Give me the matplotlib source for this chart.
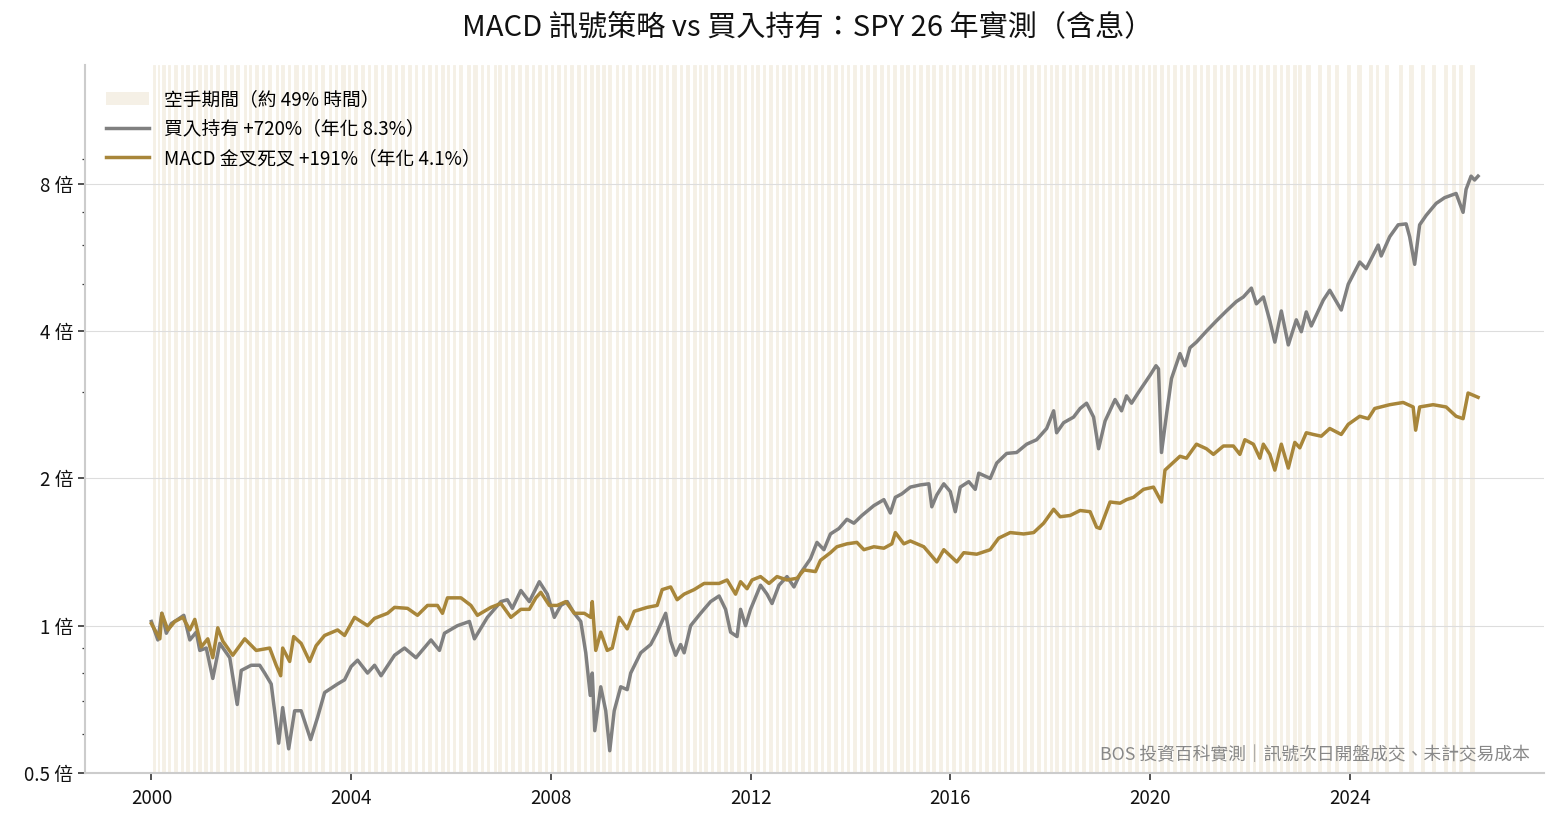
import numpy as np
import matplotlib
matplotlib.use("Agg")
import matplotlib.pyplot as plt
from matplotlib.patches import Patch
from matplotlib.lines import Line2D
from matplotlib.ticker import FixedLocator, LogLocator, NullFormatter

plt.rcParams['font.family'] = ['Noto Sans CJK TC', 'DejaVu Sans']

# ---------------- data ----------------
BH_YEARS = [2000.0, 2000.13, 2000.21, 2000.30, 2000.40, 2000.53, 2000.65, 2000.77, 2000.90, 2000.97,
            2001.10, 2001.23, 2001.37, 2001.57, 2001.72, 2001.80, 2002.0, 2002.17, 2002.27, 2002.40,
            2002.55, 2002.63, 2002.75, 2002.87, 2003.0, 2003.19, 2003.33, 2003.47, 2003.73, 2003.87,
            2004.0, 2004.13, 2004.33, 2004.47, 2004.60, 2004.87, 2005.07, 2005.30, 2005.60, 2005.77,
            2005.87, 2006.13, 2006.37, 2006.47, 2006.73, 2007.0, 2007.13, 2007.23, 2007.40, 2007.57,
            2007.77, 2007.93, 2008.07, 2008.2, 2008.33, 2008.47, 2008.6, 2008.7, 2008.79, 2008.83,
            2008.88, 2009.0, 2009.1, 2009.18, 2009.27, 2009.4, 2009.53, 2009.6, 2009.8, 2010.0,
            2010.13, 2010.3, 2010.4, 2010.5, 2010.6, 2010.67, 2010.8, 2011.0, 2011.2, 2011.37,
            2011.5, 2011.6, 2011.73, 2011.8, 2011.9, 2012.0, 2012.2, 2012.33, 2012.43, 2012.57,
            2012.73, 2012.87, 2013.0, 2013.2, 2013.33, 2013.47, 2013.6, 2013.77, 2013.93, 2014.07,
            2014.23, 2014.47, 2014.67, 2014.8, 2014.9, 2015.03, 2015.2, 2015.4, 2015.57, 2015.63,
            2015.73, 2015.87, 2016.0, 2016.1, 2016.2, 2016.37, 2016.5, 2016.57, 2016.8, 2016.93,
            2017.13, 2017.33, 2017.53, 2017.73, 2017.93, 2018.07, 2018.13, 2018.27, 2018.47, 2018.6,
            2018.73, 2018.87, 2018.97, 2019.1, 2019.3, 2019.43, 2019.53, 2019.63, 2019.77, 2020.0,
            2020.12, 2020.17, 2020.23, 2020.33, 2020.43, 2020.6, 2020.7, 2020.8, 2020.93, 2021.13,
            2021.33, 2021.53, 2021.73, 2021.87, 2022.03, 2022.13, 2022.27, 2022.4, 2022.5, 2022.63,
            2022.77, 2022.93, 2023.03, 2023.13, 2023.23, 2023.47, 2023.6, 2023.83, 2023.97, 2024.2,
            2024.33, 2024.57, 2024.63, 2024.8, 2024.97, 2025.13, 2025.2, 2025.3, 2025.4, 2025.53,
            2025.73, 2025.9, 2026.13, 2026.27, 2026.33, 2026.43, 2026.5, 2026.57]
BH_VALUES = [1.02, 0.935, 1.06, 0.965, 1.01, 1.03, 1.05, 0.935, 0.97, 0.89,
             0.90, 0.78, 0.92, 0.86, 0.69, 0.81, 0.83, 0.83, 0.80, 0.76,
             0.575, 0.68, 0.56, 0.67, 0.67, 0.585, 0.65, 0.73, 0.76, 0.775,
             0.825, 0.85, 0.80, 0.83, 0.79, 0.87, 0.90, 0.86, 0.935, 0.89,
             0.965, 1.0, 1.02, 0.94, 1.04, 1.12, 1.13, 1.085, 1.18, 1.12,
             1.23, 1.16, 1.04, 1.10, 1.12, 1.06, 1.02, 0.88, 0.72, 0.80,
             0.61, 0.75, 0.67, 0.555, 0.67, 0.75, 0.74, 0.80, 0.88, 0.915,
             0.97, 1.06, 0.93, 0.87, 0.915, 0.88, 1.0, 1.06, 1.12, 1.15,
             1.08, 0.97, 0.95, 1.08, 1.0, 1.08, 1.21, 1.16, 1.11, 1.21,
             1.26, 1.2, 1.28, 1.37, 1.48, 1.43, 1.54, 1.58, 1.65, 1.62,
             1.68, 1.76, 1.81, 1.70, 1.83, 1.86, 1.92, 1.94, 1.95, 1.75,
             1.85, 1.95, 1.88, 1.71, 1.92, 1.97, 1.90, 2.05, 2.0, 2.15,
             2.25, 2.26, 2.35, 2.4, 2.53, 2.75, 2.48, 2.6, 2.67, 2.78,
             2.85, 2.67, 2.3, 2.62, 2.9, 2.75, 2.95, 2.85, 3.0, 3.25,
             3.4, 3.35, 2.26, 2.7, 3.2, 3.6, 3.4, 3.7, 3.8, 4.0,
             4.2, 4.4, 4.6, 4.7, 4.9, 4.55, 4.7, 4.2, 3.8, 4.4,
             3.75, 4.22, 3.99, 4.38, 4.1, 4.63, 4.85, 4.42, 4.99, 5.54,
             5.37, 6.0, 5.7, 6.24, 6.6, 6.63, 6.24, 5.48, 6.6, 6.9,
             7.3, 7.5, 7.65, 7.0, 7.8, 8.3, 8.15, 8.3]

MACD_YEARS = [2000.0, 2000.17, 2000.21, 2000.33, 2000.47, 2000.63, 2000.77, 2000.87, 2001.0, 2001.13,
              2001.23, 2001.33, 2001.43, 2001.63, 2001.87, 2002.1, 2002.37, 2002.5, 2002.59, 2002.63,
              2002.77, 2002.85, 2003.0, 2003.17, 2003.3, 2003.47, 2003.73, 2003.87, 2004.07, 2004.33,
              2004.47, 2004.73, 2004.87, 2005.13, 2005.33, 2005.53, 2005.73, 2005.83, 2005.93, 2006.2,
              2006.4, 2006.53, 2006.8, 2007.0, 2007.2, 2007.4, 2007.57, 2007.7, 2007.8, 2007.97,
              2008.13, 2008.3, 2008.47, 2008.67, 2008.8, 2008.83, 2008.9, 2009.0, 2009.13, 2009.23,
              2009.37, 2009.53, 2009.67, 2009.93, 2010.13, 2010.23, 2010.4, 2010.53, 2010.67, 2010.87,
              2011.07, 2011.37, 2011.53, 2011.7, 2011.8, 2011.93, 2012.03, 2012.2, 2012.37, 2012.53,
              2012.73, 2012.93, 2013.07, 2013.3, 2013.4, 2013.6, 2013.73, 2013.93, 2014.13, 2014.27,
              2014.47, 2014.67, 2014.83, 2014.9, 2015.07, 2015.2, 2015.47, 2015.73, 2015.87, 2016.13,
              2016.27, 2016.53, 2016.8, 2016.97, 2017.2, 2017.47, 2017.67, 2017.87, 2018.07, 2018.2,
              2018.4, 2018.6, 2018.8, 2018.93, 2019.0, 2019.2, 2019.4, 2019.53, 2019.67, 2019.87,
              2020.07, 2020.23, 2020.3, 2020.43, 2020.6, 2020.73, 2020.93, 2021.13, 2021.27, 2021.47,
              2021.67, 2021.8, 2021.9, 2022.07, 2022.2, 2022.27, 2022.4, 2022.5, 2022.63, 2022.77,
              2022.9, 2023.0, 2023.13, 2023.27, 2023.43, 2023.6, 2023.83, 2023.97, 2024.2, 2024.37,
              2024.5, 2024.8, 2025.07, 2025.27, 2025.32, 2025.4, 2025.67, 2025.93, 2026.13, 2026.27,
              2026.37, 2026.57]
MACD_VALUES = [1.01, 0.94, 1.06, 0.98, 1.02, 1.04, 0.98, 1.03, 0.905, 0.94,
               0.86, 0.99, 0.93, 0.87, 0.94, 0.89, 0.90, 0.83, 0.79, 0.90,
               0.845, 0.95, 0.92, 0.845, 0.91, 0.955, 0.98, 0.955, 1.04, 1.0,
               1.035, 1.06, 1.09, 1.085, 1.05, 1.10, 1.10, 1.06, 1.14, 1.14,
               1.10, 1.05, 1.09, 1.11, 1.04, 1.08, 1.08, 1.14, 1.17, 1.10,
               1.10, 1.12, 1.06, 1.06, 1.04, 1.12, 0.89, 0.97, 0.89, 0.90,
               1.04, 0.985, 1.07, 1.09, 1.10, 1.185, 1.2, 1.13, 1.16, 1.185,
               1.22, 1.22, 1.24, 1.16, 1.23, 1.19, 1.24, 1.26, 1.22, 1.26,
               1.24, 1.25, 1.30, 1.29, 1.36, 1.41, 1.45, 1.47, 1.48, 1.43,
               1.45, 1.44, 1.47, 1.55, 1.47, 1.49, 1.45, 1.35, 1.43, 1.35,
               1.41, 1.40, 1.43, 1.51, 1.55, 1.54, 1.55, 1.62, 1.73, 1.67,
               1.68, 1.72, 1.71, 1.59, 1.58, 1.79, 1.78, 1.81, 1.83, 1.90,
               1.92, 1.79, 2.08, 2.14, 2.22, 2.2, 2.35, 2.3, 2.24, 2.33,
               2.33, 2.24, 2.4, 2.35, 2.2, 2.35, 2.24, 2.08, 2.35, 2.1,
               2.37, 2.31, 2.48, 2.46, 2.44, 2.53, 2.46, 2.58, 2.68, 2.65,
               2.78, 2.83, 2.86, 2.8, 2.51, 2.8, 2.83, 2.8, 2.68, 2.65,
               2.99, 2.93]

# out-of-market (空手) periods, in fractional years
OUT_PERIODS = [
    (2000.04, 2000.08), (2000.13, 2000.16), (2000.22, 2000.27), (2000.33, 2000.38), (2000.46, 2000.52),
    (2000.60, 2000.64), (2000.70, 2000.76), (2000.83, 2000.88), (2000.93, 2000.99),
    (2001.06, 2001.12), (2001.18, 2001.22), (2001.30, 2001.36), (2001.45, 2001.50), (2001.57, 2001.63),
    (2001.70, 2001.76), (2001.86, 2001.90), (2001.95, 2002.00),
    (2002.08, 2002.14), (2002.22, 2002.26), (2002.33, 2002.40), (2002.49, 2002.53), (2002.60, 2002.66),
    (2002.74, 2002.78), (2002.86, 2002.93),
    (2003.02, 2003.06), (2003.13, 2003.19), (2003.27, 2003.31), (2003.40, 2003.45), (2003.55, 2003.60),
    (2003.68, 2003.72), (2003.80, 2003.87), (2003.94, 2003.98),
    (2004.05, 2004.11), (2004.20, 2004.26), (2004.34, 2004.38), (2004.45, 2004.52), (2004.60, 2004.64),
    (2004.72, 2004.79), (2004.88, 2004.92),
    (2005.00, 2005.06), (2005.14, 2005.19), (2005.27, 2005.33), (2005.42, 2005.46), (2005.54, 2005.60),
    (2005.68, 2005.73), (2005.80, 2005.86), (2005.93, 2005.97),
    (2006.05, 2006.09), (2006.17, 2006.23), (2006.32, 2006.38), (2006.45, 2006.52), (2006.60, 2006.64),
    (2006.72, 2006.77), (2006.86, 2006.90), (2006.95, 2007.00),
    (2007.08, 2007.13), (2007.20, 2007.26), (2007.35, 2007.40), (2007.48, 2007.54), (2007.62, 2007.66),
    (2007.74, 2007.80), (2007.88, 2007.93),
    (2008.00, 2008.05), (2008.12, 2008.18), (2008.26, 2008.30), (2008.38, 2008.44), (2008.52, 2008.58),
    (2008.66, 2008.70), (2008.78, 2008.84), (2008.91, 2008.96),
    (2009.03, 2009.08), (2009.15, 2009.21), (2009.30, 2009.34), (2009.42, 2009.47), (2009.55, 2009.61),
    (2009.70, 2009.74), (2009.82, 2009.88), (2009.94, 2009.98),
    (2010.04, 2010.09), (2010.17, 2010.23), (2010.31, 2010.35), (2010.43, 2010.50), (2010.58, 2010.63),
    (2010.71, 2010.76), (2010.85, 2010.90), (2010.96, 2011.00),
    (2011.07, 2011.12), (2011.20, 2011.25), (2011.33, 2011.39), (2011.47, 2011.52), (2011.59, 2011.64),
    (2011.72, 2011.78), (2011.86, 2011.91),
    (2012.00, 2012.04), (2012.10, 2012.16), (2012.24, 2012.28), (2012.36, 2012.42), (2012.50, 2012.55),
    (2012.63, 2012.68), (2012.76, 2012.82), (2012.90, 2012.94),
    (2013.02, 2013.07), (2013.15, 2013.20), (2013.28, 2013.34), (2013.42, 2013.46), (2013.54, 2013.60),
    (2013.68, 2013.73), (2013.81, 2013.86), (2013.93, 2013.97),
    (2014.05, 2014.11), (2014.19, 2014.24), (2014.32, 2014.37), (2014.45, 2014.51), (2014.60, 2014.65),
    (2014.73, 2014.78), (2014.86, 2014.92),
    (2015.00, 2015.05), (2015.12, 2015.18), (2015.26, 2015.30), (2015.38, 2015.44), (2015.52, 2015.57),
    (2015.64, 2015.70), (2015.78, 2015.83), (2015.91, 2015.96),
    (2016.03, 2016.09), (2016.17, 2016.22), (2016.30, 2016.35), (2016.43, 2016.49), (2016.57, 2016.62),
    (2016.70, 2016.75), (2016.83, 2016.89), (2016.96, 2017.00),
    (2017.07, 2017.12), (2017.20, 2017.26), (2017.34, 2017.38), (2017.46, 2017.52), (2017.60, 2017.65),
    (2017.73, 2017.79), (2017.87, 2017.92),
    (2018.00, 2018.04), (2018.10, 2018.16), (2018.24, 2018.29), (2018.37, 2018.42), (2018.50, 2018.56),
    (2018.64, 2018.69), (2018.77, 2018.83), (2018.90, 2018.96),
    (2019.04, 2019.08), (2019.16, 2019.22), (2019.30, 2019.35), (2019.43, 2019.48), (2019.56, 2019.62),
    (2019.70, 2019.75), (2019.83, 2019.88), (2019.95, 2019.99),
    (2020.06, 2020.12), (2020.20, 2020.26), (2020.34, 2020.38), (2020.46, 2020.52), (2020.60, 2020.65),
    (2020.73, 2020.79), (2020.87, 2020.92),
    (2021.00, 2021.05), (2021.13, 2021.18), (2021.26, 2021.32), (2021.40, 2021.45), (2021.53, 2021.58),
    (2021.66, 2021.72), (2021.80, 2021.85), (2021.93, 2021.98),
    (2022.06, 2022.11), (2022.19, 2022.25), (2022.33, 2022.38), (2022.46, 2022.52), (2022.60, 2022.65),
    (2022.73, 2022.79), (2022.87, 2022.92),
    (2022.97, 2023.03), (2023.13, 2023.20), (2023.37, 2023.42), (2023.55, 2023.60), (2023.70, 2023.76),
    (2023.94, 2024.00),
    (2024.15, 2024.22), (2024.38, 2024.44), (2024.52, 2024.57), (2024.70, 2024.76), (2024.98, 2025.04),
    (2025.18, 2025.26), (2025.42, 2025.49), (2025.64, 2025.70), (2025.88, 2025.94),
    (2026.05, 2026.10), (2026.19, 2026.24), (2026.40, 2026.48),
]

Y_TICKS = [0.5, 1, 2, 4, 8]
Y_TICK_LABELS = ["0.5 倍", "1 倍", "2 倍", "4 倍", "8 倍"]
X_TICKS = [2000, 2004, 2008, 2012, 2016, 2020, 2024]

TITLE = "MACD 訊號策略 vs 買入持有：SPY 26 年實測（含息）"
LEGEND_LABELS = ["空手期間（約 49% 時間）", "買入持有 +720%（年化 8.3%）", "MACD 金叉死叉 +191%（年化 4.1%）"]
NOTE = "BOS 投資百科實測｜訊號次日開盤成交、未計交易成本"

# ---------------- styling ----------------
BAND_COLOR = "#F5F0E6"
GRAY = "#808080"
GOLD = "#A8863A"

fig = plt.figure(figsize=(15.6, 8.24), dpi=100)
ax = fig.add_axes([0.0545, 0.062, 0.9355, 0.859])

for s, e in OUT_PERIODS:
    ax.axvspan(s, e, facecolor=BAND_COLOR, edgecolor=BAND_COLOR, lw=0.6, zorder=0)

ax.plot(BH_YEARS, BH_VALUES, color=GRAY, lw=2.5, zorder=3, solid_joinstyle='round')
ax.plot(MACD_YEARS, MACD_VALUES, color=GOLD, lw=2.5, zorder=4, solid_joinstyle='round')

ax.set_yscale('log')
ax.set_ylim(0.5, 14.0)
xspan = BH_YEARS[-1] - BH_YEARS[0]
ax.set_xlim(BH_YEARS[0] - 0.05 * xspan, BH_YEARS[-1] + 0.05 * xspan)

ax.yaxis.set_major_locator(FixedLocator(Y_TICKS))
ax.set_yticklabels(Y_TICK_LABELS)
ax.yaxis.set_minor_locator(LogLocator(base=10, subs=(2, 3, 4, 5, 6, 7, 8, 9)))
ax.yaxis.set_minor_formatter(NullFormatter())
ax.set_xticks(X_TICKS)
ax.set_xticklabels([str(x) for x in X_TICKS])

ax.grid(axis='y', which='major', color='#DDDDDD', lw=0.8, zorder=1)
ax.set_axisbelow(True)

for sp in ['top', 'right']:
    ax.spines[sp].set_visible(False)
for sp in ['left', 'bottom']:
    ax.spines[sp].set_color('#CCCCCC')
    ax.spines[sp].set_linewidth(1.5)

ax.tick_params(axis='both', which='major', labelsize=13.5, length=5, width=1.2, color='#333333', colors='#111111')
ax.tick_params(axis='x', which='major', pad=6)
ax.tick_params(axis='y', which='minor', length=2.5, width=0.9, color='#333333')

fig.suptitle(TITLE, x=0.518, y=0.985, fontsize=21, color='#111111')

handles = [Patch(facecolor=BAND_COLOR, edgecolor='none'),
           Line2D([0], [0], color=GRAY, lw=2.5),
           Line2D([0], [0], color=GOLD, lw=2.5)]
ax.legend(handles, LEGEND_LABELS, loc='upper left', frameon=False, fontsize=13.5,
          handlelength=2.3, handletextpad=0.8, labelspacing=0.45,
          bbox_to_anchor=(0.003, 0.99))

ax.text(0.99, 0.012, NOTE, transform=ax.transAxes, ha='right', va='bottom',
        fontsize=12.8, color='#888888')

fig.savefig("out.png", dpi=100)
